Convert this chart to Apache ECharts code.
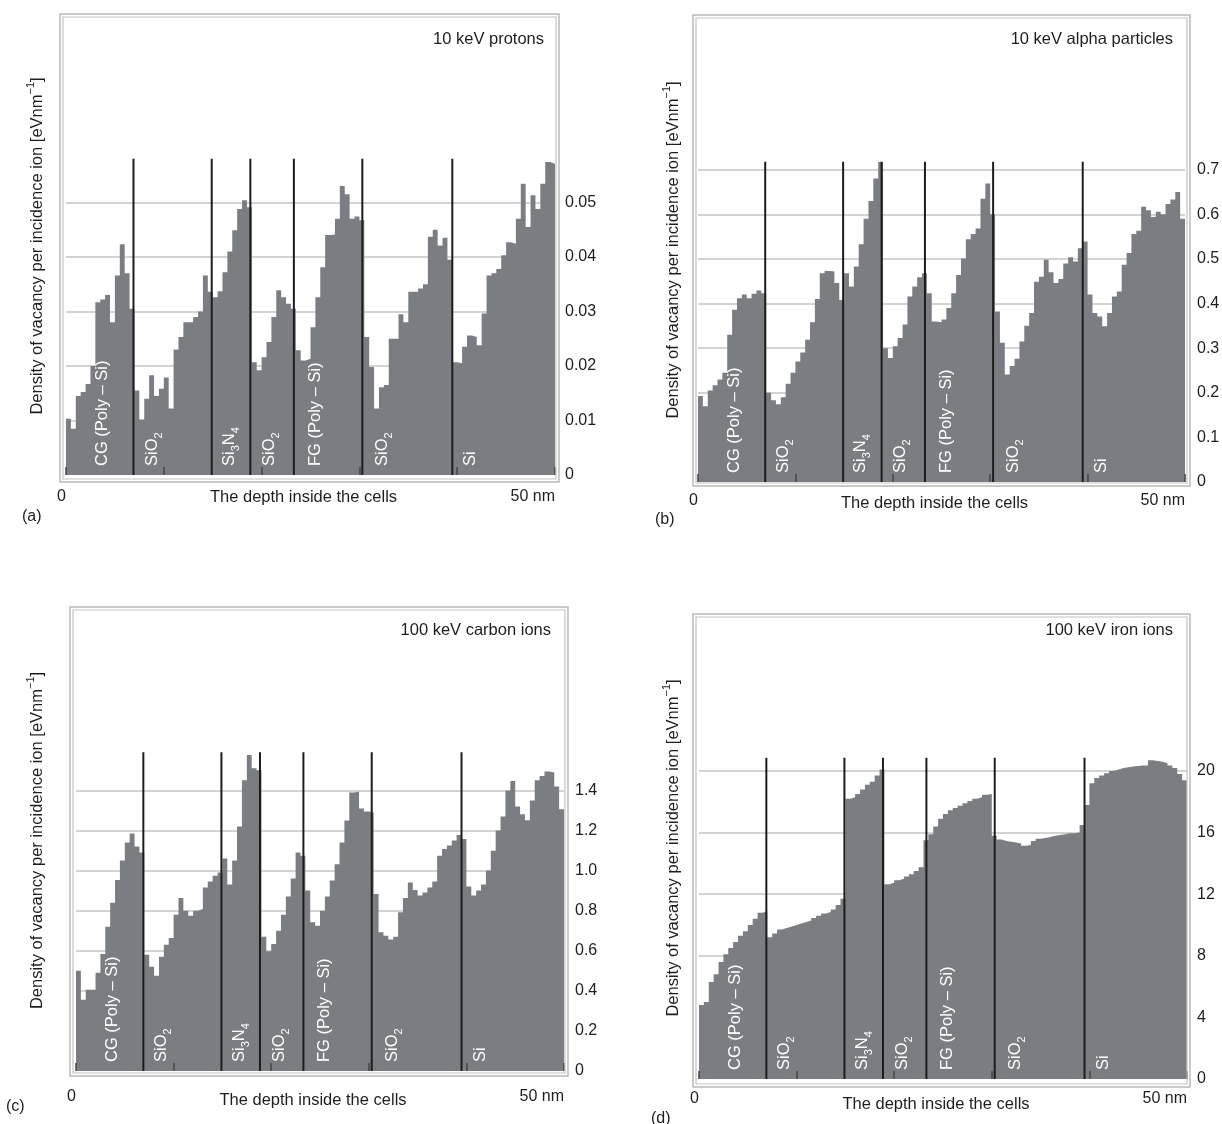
<!DOCTYPE html>
<html><head><meta charset="utf-8">
<script src="https://cdn.jsdelivr.net/npm/echarts@6/dist/echarts.min.js"></script>
<style>html,body{margin:0;padding:0;background:#fff}#c{width:1222px;height:1124px}</style>
</head><body><div id="c"></div>
<script>
// ---------------- data ----------------
const binWidth = 0.5; // nm per histogram bin, 0 .. 50 nm
const protons = [0.0103,0.0085,0.0145,0.0152,0.0167,0.0200,0.0317,0.0322,0.0330,0.0280,
 0.0366,0.0423,0.0370,0.0305,0.0155,0.0102,0.0140,0.0183,0.0145,0.0158,
 0.0179,0.0122,0.0230,0.0253,0.0280,0.0280,0.0290,0.0300,0.0366,0.0336,
 0.0326,0.0337,0.0372,0.0410,0.0449,0.0488,0.0504,0.0491,0.0207,0.0192,
 0.0216,0.0244,0.0290,0.0339,0.0326,0.0314,0.0305,0.0229,0.0210,0.0213,
 0.0271,0.0326,0.0381,0.0440,0.0441,0.0470,0.0530,0.0515,0.0470,0.0474,
 0.0467,0.0253,0.0198,0.0122,0.0161,0.0165,0.0250,0.0250,0.0295,0.0280,
 0.0336,0.0336,0.0342,0.0350,0.0437,0.0450,0.0421,0.0435,0.0395,0.0207,
 0.0205,0.0235,0.0256,0.0253,0.0238,0.0296,0.0366,0.0370,0.0378,0.0403,
 0.0427,0.0424,0.0470,0.0534,0.0455,0.0513,0.0488,0.0534,0.0574,0.0571];
const alphas = [0.193,0.170,0.205,0.217,0.230,0.245,0.330,0.386,0.412,0.420,
 0.412,0.422,0.429,0.423,0.200,0.183,0.174,0.190,0.220,0.245,
 0.270,0.290,0.319,0.358,0.410,0.468,0.473,0.472,0.446,0.408,
 0.468,0.438,0.483,0.533,0.590,0.630,0.680,0.717,0.300,0.278,
 0.304,0.323,0.353,0.416,0.438,0.459,0.468,0.423,0.360,0.358,
 0.364,0.390,0.423,0.464,0.501,0.544,0.556,0.568,0.635,0.669,
 0.600,0.382,0.312,0.241,0.260,0.276,0.315,0.350,0.379,0.449,
 0.460,0.498,0.470,0.446,0.455,0.490,0.504,0.494,0.524,0.539,
 0.420,0.379,0.371,0.349,0.379,0.416,0.427,0.487,0.513,0.556,
 0.563,0.617,0.609,0.594,0.606,0.600,0.623,0.633,0.650,0.590];
const carbon = [0.50,0.355,0.405,0.405,0.49,0.584,0.72,0.84,0.953,1.05,
 1.14,1.185,1.12,1.09,0.58,0.52,0.475,0.57,0.63,0.664,
 0.78,0.863,0.80,0.775,0.80,0.808,0.916,0.945,0.974,0.99,
 1.06,0.93,1.05,1.22,1.45,1.577,1.51,1.50,0.67,0.597,
 0.634,0.70,0.78,0.87,0.96,1.09,1.074,0.90,0.742,0.725,
 0.80,0.87,0.95,1.032,1.14,1.25,1.39,1.394,1.31,1.295,
 1.29,0.883,0.692,0.675,0.656,0.67,0.792,0.863,0.941,0.903,
 0.875,0.891,0.916,0.946,1.074,1.107,1.125,1.15,1.178,1.157,
 0.92,0.875,0.90,0.93,1.0,1.099,1.20,1.27,1.40,1.447,
 1.32,1.281,1.251,1.35,1.451,1.472,1.494,1.489,1.42,1.306];
const iron = [4.8,5.0,6.3,6.8,7.6,8.1,8.5,8.9,9.3,9.6,
 10.0,10.4,10.8,10.9,9.2,9.45,9.7,9.8,9.9,10.0,
 10.1,10.2,10.3,10.45,10.6,10.75,10.85,11.0,11.3,11.7,
 18.2,18.3,18.5,18.8,19.1,19.3,19.7,20.1,12.65,12.75,
 12.9,13.0,13.15,13.3,13.5,13.75,15.5,15.9,16.4,16.9,
 17.2,17.45,17.6,17.75,17.9,18.05,18.2,18.3,18.45,18.5,
 15.8,15.55,15.45,15.4,15.35,15.3,15.15,15.2,15.45,15.6,
 15.65,15.72,15.8,15.85,15.9,15.95,15.95,16.0,16.5,17.8,
 19.2,19.55,19.7,19.85,20.0,20.1,20.2,20.25,20.3,20.33,
 20.35,20.35,20.7,20.65,20.6,20.5,20.35,20.2,19.8,19.4];

const boundaries = [6.9, 14.9, 18.85, 23.3, 30.3, 39.5];      // layer interfaces (nm)
const boundaryTops = [0.058, 0.718, 1.59, 20.86];             // height of interface lines
const layerLabelPos = [3.7, 8.8, 16.7, 20.8, 25.5, 32.4, 41.4];
const layerLabels = ['CG (Poly – Si)', 'SiO{s|2}', 'Si{s|3}N{s|4}', 'SiO{s|2}', 'FG (Poly – Si)', 'SiO{s|2}', 'Si'];
const panelTitles = ['10 keV protons', '10 keV alpha particles', '100 keV carbon ions', '100 keV iron ions'];
const panelLetters = ['(a)', '(b)', '(c)', '(d)'];
const yTicksA = [0, 0.01, 0.02, 0.03, 0.04, 0.05];
const yTicksB = [0, 0.1, 0.2, 0.3, 0.4, 0.5, 0.6, 0.7];
const yTicksC = [0, 0.2, 0.4, 0.6, 0.8, 1.0, 1.2, 1.4];
const yTicksD = [0, 4, 8, 12, 16, 20];
const yDecimals = [2, 1, 1, 0];
const xTickLabels = {0: '0', 50: '50 nm'};
const xAxisTitle = 'The depth inside the cells';
const yAxisTitle = 'Density of vacancy per incidence ion [eVnm{sup|−1}]';

// ---------------- layout / style ----------------
const FONT = '"Liberation Sans", Arial, Helvetica, sans-serif';
const TXT = '#1e1e1e';
const BAR = '#7a7e82';
const FS = 16.5;
const series_values = [protons, alphas, carbon, iron];
const yTicks = [yTicksA, yTicksB, yTicksC, yTicksD];
const L = [
  {grid:{left:66, top:17, width:489, height:458}, ymax:0.084, yint:0.01, frame:[60,14,499,468], ylm:10, ypad:[10,0,0,0], xlm:14, xng:14, yng:17, tr:678, tt:31, letter:[22,509]},
  {grid:{left:698, top:18, width:487, height:464}, ymax:1.04, yint:0.1, frame:[693,15,497,471], ylm:12, ypad:[0,0,0,0], xlm:11, xng:13, yng:13, tr:49, tt:31, letter:[655,512]},
  {grid:{left:76, top:610, width:488, height:461}, ymax:2.3, yint:0.2, frame:[70,607,498,469], ylm:11, ypad:[0,0,0,0], xlm:18, xng:21, yng:27, tr:671, tt:622, letter:[6,1099]},
  {grid:{left:699, top:617, width:488, height:462}, ymax:30, yint:4, frame:[693,614,497,473], ylm:10, ypad:[0,0,0,0], xlm:12, xng:17, yng:14, tr:49, tt:622, letter:[651,1111]}
];

function stepData(vals){
  const d = vals.map((v,i)=>[i*binWidth, v]);
  d.push([vals.length*binWidth, vals[vals.length-1]]);
  return d;
}

const grids = [], xAxes = [], yAxes = [], series = [], titles = [], graphics = [];
L.forEach((p, i) => {
  grids.push(Object.assign({containLabel:false, outerBoundsMode:'none'}, p.grid));
  xAxes.push({
    type:'value', gridIndex:i, min:0, max:50, interval:10, z:10,
    axisLine:{show:false},
    axisTick:{show:true, inside:true, length:8, lineStyle:{color:'#444', width:1.5}},
    splitLine:{show:false},
    axisLabel:{show:true, margin:p.xlm, fontSize:16, color:TXT, fontFamily:FONT,
      showMinLabel:true, showMaxLabel:true, alignMinLabel:'right', alignMaxLabel:'right',
      formatter: v => (xTickLabels[v] !== undefined ? xTickLabels[v] : '')},
    name:xAxisTitle, nameLocation:'middle', nameGap:p.xng, nameMoveOverlap:false,
    nameTextStyle:{fontSize:FS, color:TXT, fontFamily:FONT, padding:[0,14,0,0]}
  });
  const ticks = yTicks[i];
  yAxes.push({
    type:'value', gridIndex:i, position:'right', min:0, max:p.ymax, interval:p.yint,
    axisLine:{show:false}, axisTick:{show:false}, splitLine:{show:false},
    axisLabel:{margin:p.ylm, fontSize:16, color:TXT, fontFamily:FONT, padding:p.ypad,
      formatter: v => {
        const hit = ticks.some(t => Math.abs(t - v) < p.ymax*1e-6);
        if (!hit) return '';
        return Math.abs(v) < 1e-12 ? '0' : v.toFixed(yDecimals[i]);
      }}
  });
  yAxes.push({
    type:'value', gridIndex:i, position:'left', min:0, max:1,
    axisLine:{show:false}, axisTick:{show:false}, axisLabel:{show:false}, splitLine:{show:false},
    name:yAxisTitle, nameLocation:'middle', nameRotate:90, nameGap:p.yng, nameMoveOverlap:false,
    nameTextStyle:{fontSize:FS, color:TXT, fontFamily:FONT, lineHeight:24,
      rich:{sup:{fontSize:11, lineHeight:12, color:TXT, fontFamily:FONT, verticalAlign:'top'}}}
  });
  // histogram + gridlines
  series.push({
    type:'line', xAxisIndex:i, yAxisIndex:2*i, data:stepData(series_values[i]), step:'end',
    symbol:'none', showSymbol:false, silent:true, z:2,
    lineStyle:{width:0, color:BAR}, areaStyle:{color:BAR, opacity:1},
    markLine:{silent:true, symbol:'none', z:1, animation:false, label:{show:false},
      lineStyle:{color:'#c4c4c4', width:1.5, type:'solid'},
      emphasis:{disabled:true},
      data: ticks.filter(v => v > 0).map(v => ({yAxis:v}))}
  });
  // layer interface lines
  series.push({
    type:'custom', xAxisIndex:i, yAxisIndex:2*i, z:5, silent:true,
    data: boundaries.map(b => [b, boundaryTops[i]]),
    renderItem:(params, api) => {
      const p0 = api.coord([api.value(0), 0]);
      const p1 = api.coord([api.value(0), api.value(1)]);
      return {type:'line', shape:{x1:p0[0], y1:p0[1], x2:p1[0], y2:p1[1]},
        style:{stroke:'#1c1c1c', lineWidth:2}};
    }
  });
  // layer names
  series.push({
    type:'custom', xAxisIndex:i, yAxisIndex:2*i, z:6, silent:true,
    data: layerLabelPos.map((x,k) => [x, 0, k]),
    renderItem:(params, api) => {
      const p0 = api.coord([api.value(0), 0]);
      const k = api.value(2);
      return {type:'text', x:p0[0], y:p0[1]-9, rotation:Math.PI/2,
        style:{text:layerLabels[k], fill:'#fff', fontSize:FS, fontFamily:FONT, lineHeight:24,
          align:'left', verticalAlign:'middle',
          rich:{s:{fontSize:11, lineHeight:12, fill:'#fff', fontFamily:FONT, verticalAlign:'bottom'}}}};
    }
  });
  titles.push({text:panelTitles[i], right:p.tr, top:p.tt, padding:0,
    textStyle:{fontSize:FS, fontWeight:'normal', color:TXT, fontFamily:FONT}});
  titles.push({text:panelLetters[i], left:p.letter[0], top:p.letter[1], padding:0,
    textStyle:{fontSize:16, fontWeight:'normal', color:TXT, fontFamily:FONT}});
  const f = p.frame;
  graphics.push({type:'rect', z:100, silent:true, shape:{x:f[0], y:f[1], width:f[2], height:f[3]},
    style:{fill:'none', stroke:'#b9b9b9', lineWidth:1.5}});
  graphics.push({type:'rect', z:100, silent:true, shape:{x:f[0]+3, y:f[1]+3, width:f[2]-6, height:f[3]-6},
    style:{fill:'none', stroke:'#c4c4c4', lineWidth:1.2}});
});

const chart = echarts.init(document.getElementById('c'), null, {renderer:'canvas'});
chart.setOption({
  animation:false, backgroundColor:'#fff',
  title:titles, grid:grids, xAxis:xAxes, yAxis:yAxes, series:series,
  graphic:{elements:graphics}
});
</script></body></html>
